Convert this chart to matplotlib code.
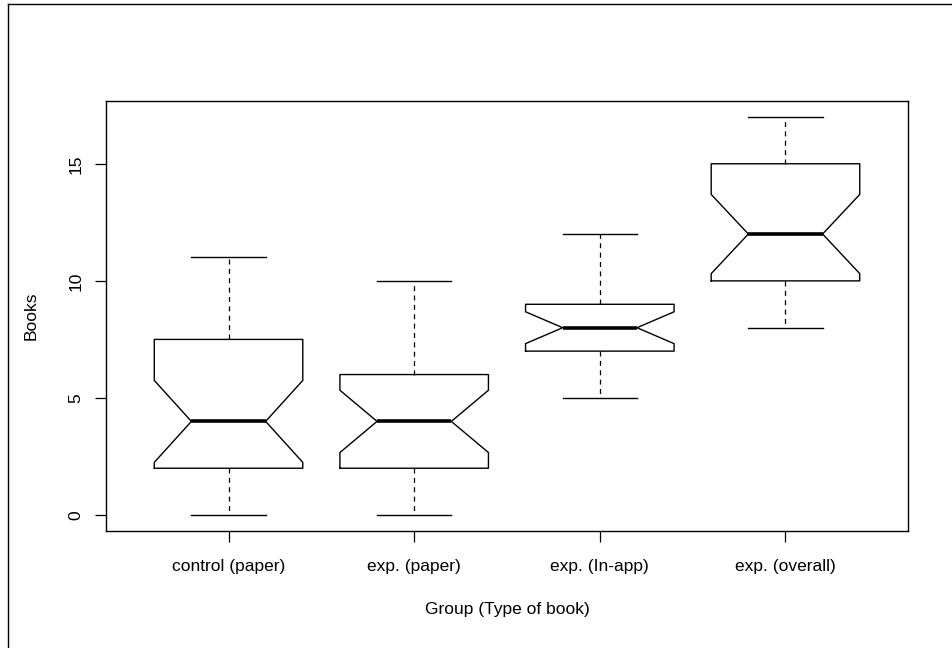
import matplotlib
matplotlib.use("Agg")
import matplotlib.pyplot as plt
from matplotlib.lines import Line2D

plt.rcParams['font.family'] = ['Liberation Sans', 'DejaVu Sans']

# values
groups = ["control (paper)", "exp. (paper)", "exp. (In-app)", "exp. (overall)"]
whislo = [0, 0, 5, 8]
q1 = [2, 2, 7, 10]
med = [4, 4, 8, 12]
q3 = [7.5, 6, 9, 15]
whishi = [11, 10, 12, 17]
cilo = [2.25, 2.67, 7.32, 10.31]
cihi = [5.75, 5.33, 8.68, 13.69]
yticks = [0, 5, 10, 15]

stats = []
for i in range(len(groups)):
    stats.append(dict(label=groups[i], whislo=whislo[i], q1=q1[i], med=med[i],
                      q3=q3[i], whishi=whishi[i], cilo=cilo[i], cihi=cihi[i],
                      fliers=[]))

W, H = 952, 648
fig = plt.figure(figsize=(W / 100, H / 100), dpi=100)
ax = fig.add_axes([106 / W, 1 - 531 / H, (908 - 106) / W, (531 - 101) / H])

ax.bxp(stats, positions=range(1, len(groups) + 1), widths=0.8, shownotches=True,
       showfliers=False, patch_artist=False,
       boxprops=dict(color="black", linewidth=1.0),
       whiskerprops=dict(color="black", linewidth=0.9, linestyle=(0, (4, 3.5))),
       capprops=dict(color="black", linewidth=1.0),
       medianprops=dict(color="black", linewidth=2.6, solid_capstyle="butt"))

ax.set_xlim(0.34, 4.66)
ax.set_ylim(-0.68, 17.68)
ax.set_yticks(yticks)
ax.set_yticklabels([str(t) for t in yticks], rotation=90, va="center")
ax.set_xticks(range(1, len(groups) + 1))
ax.set_xticklabels(groups)
ax.tick_params(axis="both", direction="out", length=8, width=0.9, labelsize=12.5,
               colors="black")
ax.tick_params(axis="x", pad=12)
ax.tick_params(axis="y", pad=8)
for s in ax.spines.values():
    s.set_linewidth(1.0)

ax.set_xlabel("Group (Type of book)", fontsize=12.5, labelpad=20)
ax.set_ylabel("Books", fontsize=12.5, labelpad=22)

# outer frame of the original device (only left and top edges visible)
fig.add_artist(Line2D([8 / W, 8 / W], [0, 1 - 4 / H], transform=fig.transFigure,
                      color="black", linewidth=1.0))
fig.add_artist(Line2D([8 / W, 1], [1 - 4 / H, 1 - 4 / H], transform=fig.transFigure,
                      color="black", linewidth=1.0))

fig.savefig("out.png", dpi=100)
